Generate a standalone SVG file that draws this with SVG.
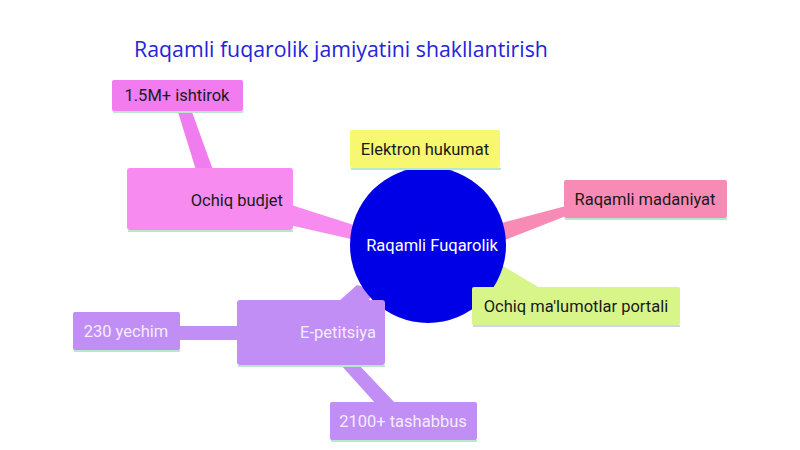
<svg xmlns="http://www.w3.org/2000/svg" width="800" height="450" viewBox="0 0 800 450">
<style>
.t{font-family:Roboto,"Liberation Sans",sans-serif;font-size:16.5px;fill:#1a1a1a}
.w{font-family:Roboto,"Liberation Sans",sans-serif;font-size:16.5px;fill:#f4ecff}
.title{font-family:"Open Sans","Noto Sans",sans-serif;font-size:21.3px;fill:#2424d8}
.sh{fill:#b8e8c8}
</style>
<rect width="800" height="450" fill="#ffffff"/>
<text class="title" x="341" y="57" text-anchor="middle">Raqamli fuqarolik jamiyatini shakllantirish</text>
<g id="connectors">
<polygon points="285,203 285,224 360,241 360,227" fill="#f78bef"/>
<polygon points="178,112 192,112 213,170 196,170" fill="#f07cf0"/>
<polygon points="498,224 500,242 566,216 566,206" fill="#f78bb5"/>
<polygon points="478,272 496,262 545,291 478,291" fill="#d8f58a"/>
<polygon points="338,302 357,285 374,290 368,302" fill="#c08ef5"/>
<rect x="178" y="326" width="62" height="14" fill="#c08ef5"/>
<polygon points="340,364 358,364 396,404 376,404" fill="#c08ef5"/>
</g>
<g id="center">
<circle cx="428" cy="245" r="78" fill="#0000e6"/>
<text x="432" y="251" text-anchor="middle" font-family="Roboto,'Liberation Sans',sans-serif" font-size="16.5" fill="#ffffff">Raqamli Fuqarolik</text>
</g>
<g id="elektron">
<rect x="351" y="168" width="150" height="2" class="sh"/>
<rect x="350" y="130" width="150" height="38" rx="2" fill="#f8f870"/>
<text class="t" x="425" y="155" text-anchor="middle">Elektron hukumat</text>
</g>
<g id="madaniyat">
<rect x="565" y="218" width="162" height="2" class="sh"/>
<rect x="564" y="180" width="163" height="38" rx="2" fill="#f78bb5"/>
<text class="t" x="645" y="205" text-anchor="middle">Raqamli madaniyat</text>
</g>
<g id="portal">
<rect x="473" y="325" width="207" height="2" fill="#c8d8f0"/>
<rect x="472" y="287" width="208" height="38" rx="2" fill="#d8f58a"/>
<text class="t" x="576" y="312" text-anchor="middle">Ochiq ma'lumotlar portali</text>
</g>
<g id="budjet">
<rect x="128" y="230" width="165" height="2" class="sh"/>
<rect x="127" y="168" width="166" height="62" rx="3" fill="#f78bef"/>
<text class="t" x="283" y="206" text-anchor="end">Ochiq budjet</text>
</g>
<g id="ishtirok">
<rect x="113" y="111" width="130" height="2" class="sh"/>
<rect x="112" y="80" width="131" height="31" rx="2" fill="#f07cf0"/>
<text class="t" x="177" y="101" text-anchor="middle">1.5M+ ishtirok</text>
</g>
<g id="petitsiya">
<rect x="238" y="365" width="147" height="2" class="sh"/>
<rect x="237" y="300" width="148" height="65" rx="3" fill="#c08ef5"/>
<text class="w" x="376" y="338" text-anchor="end">E-petitsiya</text>
</g>
<g id="yechim">
<rect x="74" y="350" width="106" height="2" class="sh"/>
<rect x="73" y="312" width="107" height="38" rx="2" fill="#c08ef5"/>
<text class="w" x="126" y="337" text-anchor="middle">230 yechim</text>
</g>
<g id="tashabbus">
<rect x="331" y="440" width="146" height="2" class="sh"/>
<rect x="330" y="402" width="147" height="38" rx="2" fill="#c08ef5"/>
<text class="w" x="403" y="427" text-anchor="middle">2100+ tashabbus</text>
</g>
</svg>
